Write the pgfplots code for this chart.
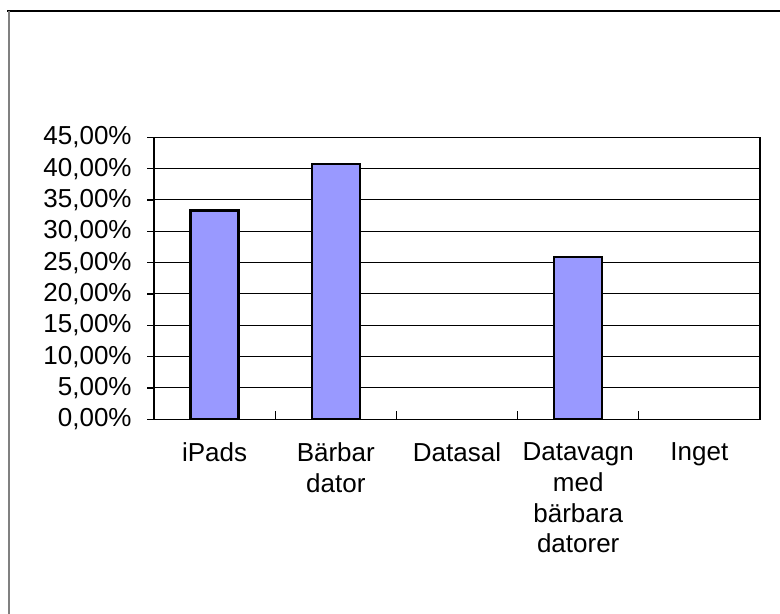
\documentclass[border=0pt]{standalone}
\usepackage{fontspec}
\setmainfont{Liberation Sans}
\usepackage{pgfplots}
\pgfplotsset{compat=1.18}
\definecolor{barfill}{HTML}{9999FF}
\begin{document}
\begin{tikzpicture}
\path[use as bounding box] (0,0) rectangle (390pt,307pt);
\draw[black, line width=0.8pt] (3.5pt,301.5pt) -- (390pt,301.5pt);
\draw[gray, line width=0.9pt] (4.3pt,301.5pt) -- (4.3pt,0pt);
\begin{axis}[
  at={(77pt,97.35pt)}, anchor=south west,
  scale only axis, width=303pt, height=141pt,
  ymin=0, ymax=45, xmin=-0.5, xmax=4.5,
  ybar, bar width=24pt, bar shift=0pt,
  axis line style={black, line width=0.6pt},
  xtick pos=bottom, ytick pos=left,
  ytick={0,5,...,45},
  yticklabels={0{,}00\%,5{,}00\%,10{,}00\%,15{,}00\%,20{,}00\%,25{,}00\%,30{,}00\%,35{,}00\%,40{,}00\%,45{,}00\%},
  xtick={0,...,4},
  xticklabels={iPads,Bärbar\\dator,Datasal,Datavagn\\med\\bärbara\\datorer,Inget},
  minor xtick={0.5,1.5,2.5,3.5},
  tick align=outside,
  major tick length=3.5pt,
  minor tick length=4pt,
  major x tick style={draw=none},
  minor x tick style={black, line width=0.6pt, yshift=4pt},
  y tick style={black, line width=0.6pt},
  ymajorgrids, grid style={black, line width=0.5pt},
  every tick label/.append style={font=\fontsize{13}{15.4}\selectfont},
  yticklabel style={anchor=east, inner sep=0pt, xshift=-7.5pt},
  xticklabel style={align=center, anchor=north, inner sep=0pt, yshift=-8pt},
]
\addplot[fill=barfill, draw=black, line width=1.2pt, restrict y to domain=0.01:100]
  coordinates {(0,33.33) (1,40.74) (2,0) (3,25.93) (4,0)};
\end{axis}
\end{tikzpicture}
\end{document}
